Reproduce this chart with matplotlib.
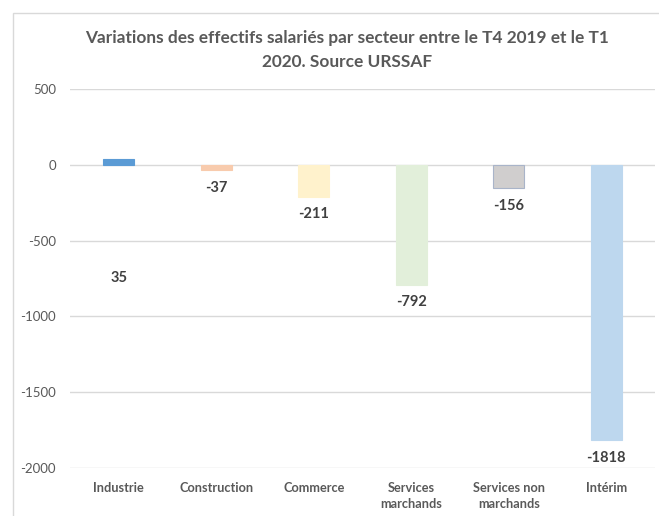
import numpy as np
import matplotlib.pyplot as plt
from matplotlib.patches import Rectangle

# Data
secteurs = ['Industrie', 'Construction', 'Commerce', 'Services\nmarchands',
            'Services non\nmarchands', 'Intérim']
variations = [35, -37, -211, -792, -156, -1818]
couleurs = ['#5B9BD5', '#F8CBAD', '#FFF2CC', '#E2EFDA', '#D0CECE', '#BDD7EE']
bords = ['#5B9BD5', '#F8CBAD', '#FFF2CC', '#E2EFDA', '#A9B4C9', '#BDD7EE']
yticks = [-2000, -1500, -1000, -500, 0, 500]

plt.rcParams['font.family'] = ['Lato', 'DejaVu Sans']
gris = '#595959'

fig = plt.figure(figsize=(6.59, 5.16), dpi=100)
ax = fig.add_axes([70 / 659, 1 - 468 / 516, 585 / 659, 379 / 516])

# chart area border (Excel style)
fig.patches.append(Rectangle((13 / 659, -0.1), 1.2, 1 - 13 / 516 + 0.1,
                             transform=fig.transFigure, fill=False,
                             edgecolor='#D9D9D9', linewidth=1))

x = np.arange(len(secteurs))
ax.bar(x, variations, width=0.32, color=couleurs, edgecolor=bords,
       linewidth=0.8, zorder=3)

# data labels (Industrie label was moved down in the original)
for i, v in enumerate(variations):
    if v > 0:
        ypos = -745
    else:
        ypos = v - 115
    ax.text(i, ypos, str(v), ha='center', va='center', fontsize=10.5,
            fontweight='bold', color='#404040', zorder=4)

ax.set_xlim(-0.5, len(secteurs) - 0.5)
ax.set_ylim(-2000, 500)
ax.set_yticks(yticks)
ax.set_yticklabels([str(t) for t in yticks], fontsize=9.5, color=gris)
ax.set_xticks(x)
ax.set_xticklabels(secteurs, fontsize=9.2, fontweight='bold', color=gris,
                   linespacing=1.45, va='top')
ax.tick_params(axis='both', length=0)
ax.tick_params(axis='x', pad=10)
ax.tick_params(axis='y', pad=10)
ax.grid(axis='y', color='#D9D9D9', linewidth=1, zorder=0)
for s in ax.spines.values():
    s.set_visible(False)

fig.text(347 / 659, 1 - 38 / 516,
         'Variations des effectifs salariés par secteur entre le T4 2019 et le T1',
         ha='center', va='center', fontsize=12.4, fontweight='bold', color=gris)
fig.text(347 / 659, 1 - 62 / 516, '2020. Source URSSAF',
         ha='center', va='center', fontsize=12.4, fontweight='bold', color=gris)

fig.savefig('out.png', dpi=100)
